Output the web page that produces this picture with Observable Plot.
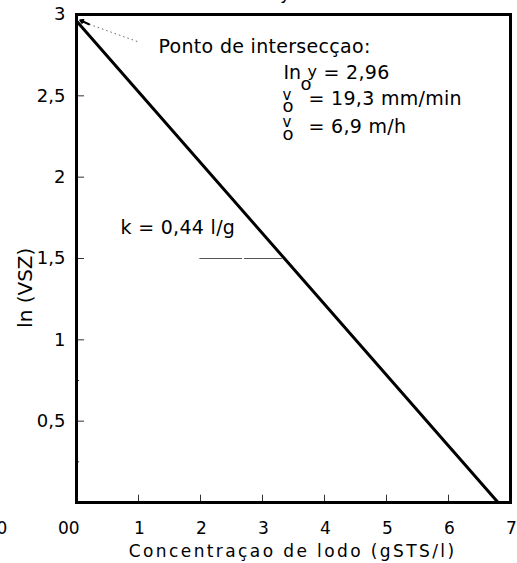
<!DOCTYPE html>
<html>
<head>
<meta charset="utf-8">
<script src="https://cdn.jsdelivr.net/npm/d3@7"></script>
<script src="https://cdn.jsdelivr.net/npm/@observablehq/plot@0.6"></script>
<style>
  html, body { margin: 0; padding: 0; background: #fff; }
  svg { overflow: visible; }
</style>
</head>
<body>
<div id="chart"></div>
<script>
// Fitted line: ln(VSZ) = 2.96 - 0.44 * C
const lineC = [0, 6.8];
const lineLnV = [2.96, 0];

const xTickValues = [1, 2, 3, 4, 5, 6];
const xLabelValues = [-1.22, -0.14, 1, 2, 3, 4, 5, 6, 7];
const xLabelTexts = ["0", "00", "1", "2", "3", "4", "5", "6", "7"];

const yMajorTicks = [0.5, 1, 1.5, 2, 2.5];
const yMinorTicks = [0.25, 0.75];
const yLabelValues = [0.5, 1, 1.5, 2, 2.5, 3];
const yLabelTexts = ["0,5", "1", "1,5", "2", "2,5", "3"];

const lineData = lineC.map((c, i) => ({c, v: lineLnV[i]}));
const xLabels = xLabelValues.map((v, i) => ({v, t: xLabelTexts[i]}));
const yLabels = yLabelValues.map((v, i) => ({v, t: yLabelTexts[i]}));

const font = "DejaVu Sans, sans-serif";
const xTitle = "Concentraçao de lodo (gSTS/l)";

const plot = Plot.plot({
  width: 517,
  height: 563,
  marginLeft: 76,
  marginRight: 7,
  marginTop: 14,
  marginBottom: 61,
  x: {type: "linear", domain: [0, 7], axis: null},
  y: {type: "linear", domain: [0, 3], axis: null},
  style: {fontFamily: font, color: "#000", background: "#fff", overflow: "visible"},
  marks: [
    // inward ticks
    Plot.ruleX(xTickValues, {x: d => d, y1: 0, y2: 0.045, stroke: "#333", strokeWidth: 1}),
    Plot.ruleY(yMajorTicks, {y: d => d, x1: 0, x2: 0.13, stroke: "#333", strokeWidth: 1}),
    Plot.ruleY(yMinorTicks, {y: d => d, x1: 0, x2: 0.05, stroke: "#333", strokeWidth: 1}),
    // fitted line
    Plot.line(lineData, {x: "c", y: "v", stroke: "#000", strokeWidth: 3}),
    // frame
    Plot.frame({stroke: "#000", strokeWidth: 3}),
    // tick labels
    Plot.text(xLabels, {x: "v", y: () => 0, text: "t", dy: 26, dx: 1, fontSize: 17, fill: "#000"}),
    Plot.text(yLabels, {x: () => 0, y: "v", text: "t", dx: -11, textAnchor: "end", fontSize: 18, fill: "#000"}),
    // axis titles
    Plot.text([xTitle], {x: () => 3.47, y: () => -0.30, text: d => d, dx: 1, fontSize: 17, fill: "#000"}),
    Plot.text(["ln (VSZ)"], {x: () => -0.82, y: () => 1.32, text: d => d, rotate: -90, fontSize: 20, fill: "#000"}),
    // stray title descender at top
    Plot.text(["y"], {x: () => 3.37, y: () => 3.13, text: d => d, fontSize: 18, fill: "#000"}),
    // arrow to intercept
    Plot.link([{x1: 0.98, y1: 2.834, x2: 0.13, y2: 2.95}], {x1: "x1", y1: "y1", x2: "x2", y2: "y2", stroke: "#666", strokeWidth: 1, strokeDasharray: "1.5,3"}),
    Plot.arrow([{x1: 0.2, y1: 2.94, x2: 0.06, y2: 2.965}], {x1: "x1", y1: "y1", x2: "x2", y2: "y2", stroke: "#000", strokeWidth: 2, headLength: 10}),
    // annotation text
    Plot.text(["Ponto de intersecçao:"], {x: () => 1.323, y: () => 2.803, text: d => d, textAnchor: "start", fontSize: 19, fill: "#000"}),
    Plot.text(["In"], {x: () => 3.339, y: () => 2.643, text: d => d, textAnchor: "start", fontSize: 19, fill: "#000"}),
    Plot.text(["o"], {x: () => 3.613, y: () => 2.57, text: d => d, textAnchor: "start", fontSize: 18, fill: "#000"}),
    Plot.text(["y"], {x: () => 3.726, y: () => 2.65, text: d => d, textAnchor: "start", fontSize: 16, fill: "#000"}),
    Plot.text(["= 2,96"], {x: () => 3.984, y: () => 2.643, text: d => d, textAnchor: "start", fontSize: 19, fill: "#000"}),
    Plot.text(["v", "v"], {x: () => 3.323, y: (d, i) => [2.502, 2.336][i], text: d => d, textAnchor: "start", fontSize: 15, fill: "#000"}),
    Plot.text(["o", "o"], {x: () => 3.323, y: (d, i) => [2.433, 2.262][i], text: d => d, textAnchor: "start", fontSize: 18, fill: "#000"}),
    Plot.text(["= 19,3 mm/min", "= 6,9 m/h"], {x: () => 3.742, y: (d, i) => [2.48, 2.308][i], text: d => d, textAnchor: "start", fontSize: 19, fill: "#000"}),
    Plot.text(["k = 0,44 l/g"], {x: () => 0.71, y: () => 1.691, text: d => d, textAnchor: "start", fontSize: 19, fill: "#000"}),
    // slope construction line at ln = 1.5
    Plot.ruleY([1.5, 1.5], {y: d => d, x1: (d, i) => [1.99, 2.71][i], x2: (d, i) => [2.68, 3.32][i], stroke: "#555", strokeWidth: 1})
  ]
});

// wider letter spacing, as in the scanned original
d3.select(plot).selectAll("text").each(function () {
  const t = this.textContent;
  if (t === xTitle) this.style.letterSpacing = "2.4px";
  else if (yLabelTexts.includes(t) && this.getAttribute("text-anchor") === "end") this.style.letterSpacing = "1.5px";
  else if (t === "Ponto de intersecçao:" || t === "k = 0,44 l/g" || t.startsWith("= ")) this.style.letterSpacing = "0.3px";
});
document.getElementById("chart").appendChild(plot);
</script>
</body>
</html>
